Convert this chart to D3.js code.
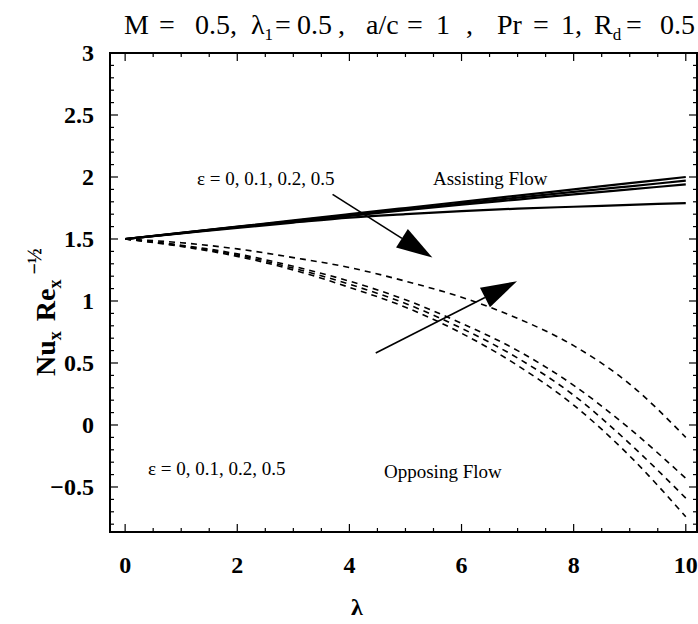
<!DOCTYPE html>
<html>
<head>
<meta charset="utf-8">
<script src="https://cdn.jsdelivr.net/npm/d3@7"></script>
<style>
  html, body { margin: 0; padding: 0; background: #fff; }
  svg { display: block; }
  text { font-family: "Liberation Serif", "DejaVu Serif", serif; fill: #000; }
</style>
</head>
<body>
<svg id="chart" width="698" height="624"></svg>
<script>
// λ sample points
const lambda = [0, 1, 2, 3, 4, 5, 6, 7, 8, 9, 10];

// Assisting flow (solid), ε = 0, 0.1, 0.2, 0.5
const assistEps0  = [1.5, 1.550, 1.600, 1.650, 1.700, 1.750, 1.800, 1.850, 1.900, 1.950, 2.000];
const assistEps01 = [1.5, 1.549, 1.597, 1.645, 1.693, 1.740, 1.787, 1.834, 1.880, 1.925, 1.970];
const assistEps02 = [1.5, 1.548, 1.595, 1.641, 1.687, 1.732, 1.776, 1.818, 1.860, 1.900, 1.940];
const assistEps05 = [1.5, 1.545, 1.590, 1.632, 1.672, 1.700, 1.725, 1.745, 1.760, 1.775, 1.790];

// Opposing flow (dashed), ε = 0, 0.1, 0.2, 0.5
const opposeEps0  = [1.5, 1.440, 1.360, 1.250, 1.110, 0.950, 0.740, 0.480, 0.160, -0.250, -0.740];
const opposeEps01 = [1.5, 1.445, 1.370, 1.265, 1.135, 0.980, 0.780, 0.540, 0.240, -0.150, -0.590];
const opposeEps02 = [1.5, 1.450, 1.380, 1.280, 1.160, 1.010, 0.820, 0.600, 0.320, -0.030, -0.430];
const opposeEps05 = [1.5, 1.470, 1.420, 1.350, 1.270, 1.160, 1.030, 0.860, 0.640, 0.330, -0.100];

const assisting = [assistEps0, assistEps01, assistEps02, assistEps05];
const opposing  = [opposeEps0, opposeEps01, opposeEps02, opposeEps05];

// Axis ticks
const xMajor = [0, 2, 4, 6, 8, 10];
const yMajor = [-0.5, 0, 0.5, 1, 1.5, 2, 2.5, 3];
const xLabels = ["0", "2", "4", "6", "8", "10"];
const yLabels = ["\u22120.5", "0", "0.5", "1", "1.5", "2", "2.5", "3"];

const svg = d3.select("#chart");

const frameL = 110, frameR = 697, frameT = 53, frameB = 532;
const x = d3.scaleLinear().domain([-0.27, 10.2]).range([frameL, frameR]);
const y = d3.scaleLinear().domain([-0.863, 3]).range([frameB, frameT]);

// Minor tick values
const xMinor = d3.range(0, 10.01, 0.5).filter(v => !xMajor.includes(v));
const yMinor = d3.range(-0.8, 3.001, 0.1).map(v => +v.toFixed(1)).filter(v => !yMajor.includes(v));

// Frame
svg.append("rect")
  .attr("x", frameL).attr("y", frameT)
  .attr("width", frameR - frameL).attr("height", frameB - frameT)
  .attr("fill", "none").attr("stroke", "#000").attr("stroke-width", 2);

const tickG = svg.append("g").attr("stroke", "#000").attr("stroke-width", 1.2);
// bottom & top ticks (inward)
[[xMajor, 8], [xMinor, 4]].forEach(([vals, len]) => {
  vals.forEach(v => {
    tickG.append("line").attr("x1", x(v)).attr("x2", x(v)).attr("y1", frameB).attr("y2", frameB - len);
    tickG.append("line").attr("x1", x(v)).attr("x2", x(v)).attr("y1", frameT).attr("y2", frameT + len);
  });
});
// left & right ticks (inward)
[[yMajor, 8], [yMinor, 4]].forEach(([vals, len]) => {
  vals.forEach(v => {
    tickG.append("line").attr("y1", y(v)).attr("y2", y(v)).attr("x1", frameL).attr("x2", frameL + len);
    tickG.append("line").attr("y1", y(v)).attr("y2", y(v)).attr("x1", frameR).attr("x2", frameR - len);
  });
});

// Tick labels
svg.append("g").selectAll("text").data(xMajor).join("text")
  .attr("x", d => x(d)).attr("y", 573)
  .attr("text-anchor", "middle")
  .attr("font-size", 24).attr("font-weight", "bold")
  .text((d, i) => xLabels[i]);

svg.append("g").selectAll("text").data(yMajor).join("text")
  .attr("x", 94).attr("y", d => y(d) + 8)
  .attr("text-anchor", "end")
  .attr("font-size", 24).attr("font-weight", "bold")
  .text((d, i) => yLabels[i]);

// Axis titles
svg.append("text").attr("x", 357).attr("y", 615)
  .attr("text-anchor", "middle").attr("font-size", 24).attr("font-weight", "bold")
  .text("\u03BB");

const yTitle = svg.append("text")
  .attr("transform", "translate(55,376) rotate(-90)")
  .attr("text-anchor", "start").attr("font-size", 28).attr("font-weight", "bold");
yTitle.append("tspan").text("Nu");
yTitle.append("tspan").attr("font-size", 18).attr("dy", 6).text("x");
yTitle.append("tspan").attr("dy", -6).attr("dx", 10).text("Re");
yTitle.append("tspan").attr("font-size", 18).attr("dy", 6).text("x");
yTitle.append("tspan").attr("font-size", 20).attr("dy", -20).attr("dx", 5).text("\u2212\u00BD");

// Title, pieces placed along the top edge
const title = svg.append("text").attr("y", 34).attr("font-size", 28);
[
  ["M", 124], ["=", 159], ["0.5,", 195], ["\u03BB", 251]
].forEach(([t, px]) => title.append("tspan").attr("x", px).attr("y", 34).text(t));
title.append("tspan").attr("font-size", 17).attr("y", 40).text("1");
[
  ["=", 275], ["0.5", 297], [",", 338],
  ["a/c", 366], ["=", 407], ["1", 436], [",", 466],
  ["Pr", 497], ["=", 533], ["1,", 561],
  ["R", 594]
].forEach(([t, px]) => title.append("tspan").attr("x", px).attr("y", 34).text(t));
title.append("tspan").attr("font-size", 17).attr("y", 40).text("d");
[
  ["=", 626], ["0.5", 660]
].forEach(([t, px]) => title.append("tspan").attr("x", px).attr("y", 34).text(t));

// Curves
const line = d3.line()
  .x((d, i) => x(lambda[i]))
  .y(d => y(d))
  .curve(d3.curveMonotoneX);

const plot = svg.append("g");
plot.selectAll("path.assist").data(assisting).join("path")
  .attr("class", "assist")
  .attr("d", line)
  .attr("fill", "none").attr("stroke", "#000").attr("stroke-width", 2.2);

plot.selectAll("path.oppose").data(opposing).join("path")
  .attr("class", "oppose")
  .attr("d", line)
  .attr("fill", "none").attr("stroke", "#000").attr("stroke-width", 1.6)
  .attr("stroke-dasharray", "6,5");

// Arrows
function arrow(x1, y1, x2, y2) {
  const ang = Math.atan2(y2 - y1, x2 - x1);
  const L = 36, W = 11;
  const bx = x2 - L * Math.cos(ang), by = y2 - L * Math.sin(ang);
  svg.append("line").attr("x1", x1).attr("y1", y1).attr("x2", bx).attr("y2", by)
    .attr("stroke", "#000").attr("stroke-width", 1.6);
  const px = -Math.sin(ang) * W, py = Math.cos(ang) * W;
  svg.append("path")
    .attr("d", `M${x2},${y2}L${bx + px},${by + py}L${bx - px},${by - py}Z`)
    .attr("fill", "#000");
}
arrow(x(3.7), y(1.86), x(5.48), y(1.35));
arrow(x(4.47), y(0.58), x(6.99), y(1.16));

// Annotations
svg.append("text").attr("x", 197).attr("y", 185).attr("font-size", 19).text("\u03B5 = 0, 0.1, 0.2, 0.5");
svg.append("text").attr("x", 433).attr("y", 185).attr("font-size", 19).text("Assisting Flow");
svg.append("text").attr("x", 148).attr("y", 475).attr("font-size", 19).text("\u03B5 = 0, 0.1, 0.2, 0.5");
svg.append("text").attr("x", 384).attr("y", 478).attr("font-size", 19).text("Opposing Flow");
</script>
</body>
</html>
